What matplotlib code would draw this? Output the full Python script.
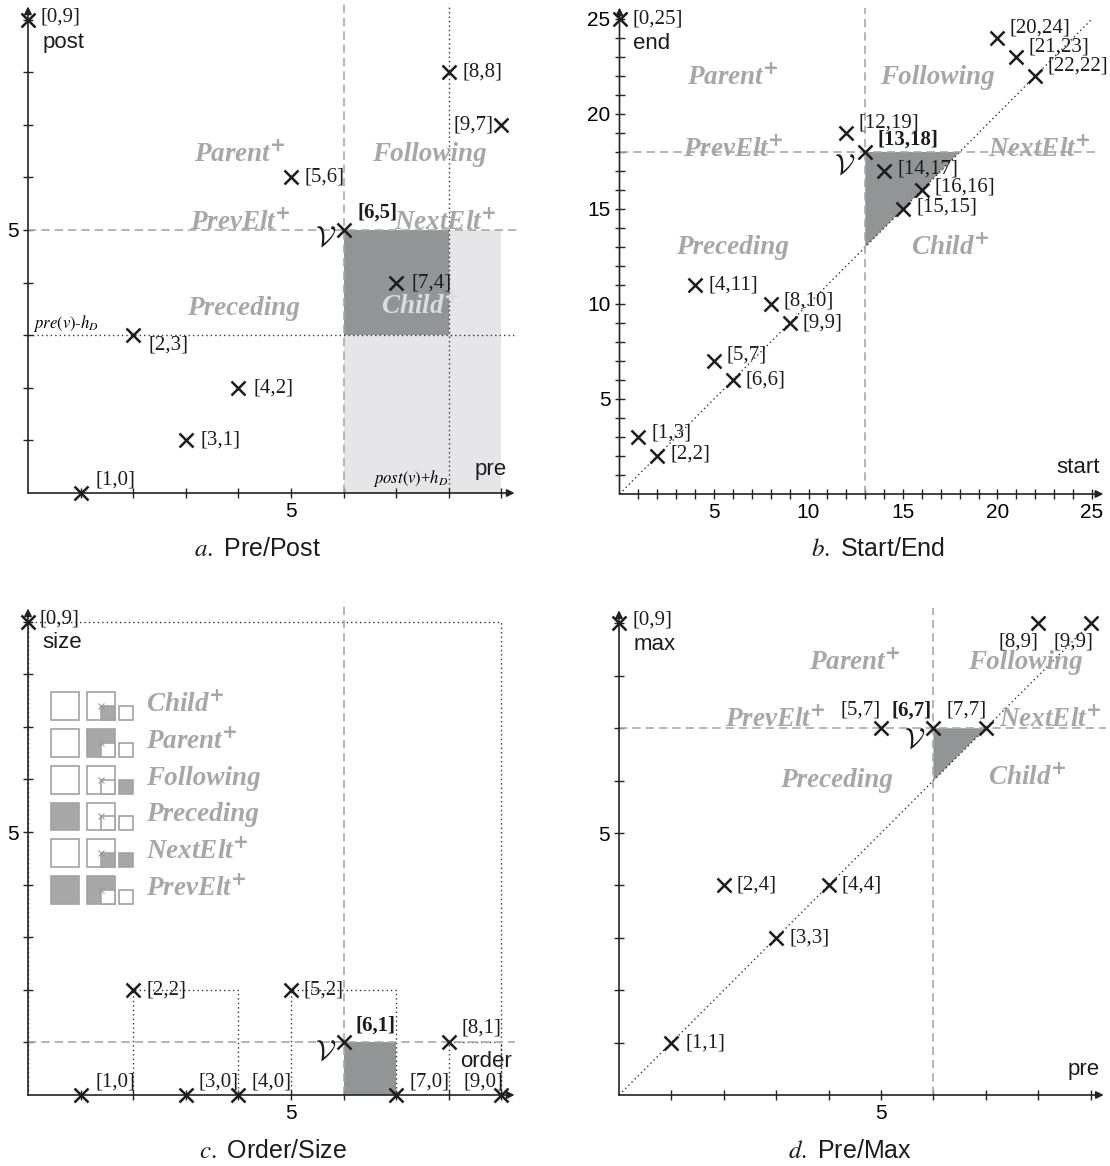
import matplotlib
matplotlib.use('Agg')
import matplotlib.pyplot as plt
from matplotlib.patches import Rectangle, Polygon

plt.rcParams['font.family'] = ['Liberation Sans', 'DejaVu Sans']

# a. Pre/Post
pp_pre = [0, 1, 2, 3, 4, 5, 6, 7, 8, 9]
pp_post = [9, 0, 3, 1, 2, 6, 5, 4, 8, 7]
pp_v = 6
h_D = 3

# b. Start/End
se_start = [0, 1, 2, 4, 5, 6, 8, 9, 12, 13, 14, 15, 16, 20, 21, 22]
se_end = [25, 3, 2, 11, 7, 6, 10, 9, 19, 18, 17, 15, 16, 24, 23, 22]
se_v = 9

# c. Order/Size
os_order = [0, 1, 2, 3, 4, 5, 6, 7, 8, 9]
os_size = [9, 0, 2, 0, 0, 2, 1, 0, 1, 0]
os_v = 6

# d. Pre/Max
pm_pre = [0, 1, 2, 3, 4, 5, 6, 7, 8, 9]
pm_max = [9, 1, 4, 3, 4, 7, 7, 7, 9, 9]
pm_v = 6

# legend of panel c: which parts are shaded
legend_labels = ['Child', 'Parent', 'Following', 'Preceding', 'NextElt', 'PrevElt']
legend_plus = [True, True, False, False, True, True]
legend_left = [0, 0, 0, 1, 0, 1]
legend_mid = [0, 1, 0, 0, 0, 1]
legend_inner = [1, 0, 0, 0, 1, 0]
legend_right = [0, 0, 1, 0, 1, 0]

W, H = 1110, 1166
DARK = '#939496'
LIGHT = '#e6e6e8'
REGION = '#a7a7a7'
DASH = '#a9a9a9'

fig = plt.figure(figsize=(W / 100, H / 100), dpi=100)


def make_axes(ox, oy, sx, sy, xlim, ylim, xend, yend, ticks_x, ticks_y, labels):
    l = ox + sx * xlim[0]
    r = ox + sx * xlim[1]
    b = oy - sy * ylim[0]
    t = oy - sy * ylim[1]
    ax = fig.add_axes([l / W, 1 - b / H, (r - l) / W, (b - t) / H])
    ax.set_xlim(xlim)
    ax.set_ylim(ylim)
    ax.patch.set_alpha(0)
    for sp in ['top', 'right']:
        ax.spines[sp].set_visible(False)
    for sp in ['left', 'bottom']:
        ax.spines[sp].set_position(('data', 0))
        ax.spines[sp].set_color('none')
    ax.set_xticks(ticks_x)
    ax.set_xticklabels([str(t) if t in labels else '' for t in ticks_x])
    ax.set_yticks(ticks_y)
    ax.set_yticklabels([str(t) if t in labels else '' for t in ticks_y])
    ax.tick_params(direction='inout', length=7, width=1, labelsize=15, pad=3,
                   color='#222222')
    arrow = dict(arrowstyle='-|>', color='#222222', lw=1.2, mutation_scale=11,
                 shrinkA=0, shrinkB=0)
    ax.annotate('', xy=(xend, 0), xytext=(0, 0), arrowprops=arrow, annotation_clip=False)
    ax.annotate('', xy=(0, yend), xytext=(0, 0), arrowprops=arrow, annotation_clip=False)
    return ax


def points(ax, xs, ys, offsets, v):
    ax.plot(xs, ys, 'x', ms=10, mew=1.8, color='#1c1c1c', clip_on=False, zorder=6)
    for i, (x, y) in enumerate(zip(xs, ys)):
        dx, dy, ha = offsets[i]
        ax.annotate(f'[{x},{y}]', (x, y), xytext=(dx, dy), textcoords='offset pixels',
                    ha=ha, va='center', fontsize=15, family='Liberation Serif',
                    weight='bold' if i == v else 'normal', color='#1c1c1c',
                    annotation_clip=False, zorder=7)


def region(ax, x, y, name, plus=False, color=REGION, ha='center'):
    s = name + (r'$^{\mathbf{+}}$' if plus else '')
    ax.text(x, y, s, color=color, fontsize=19.5, family='Liberation Serif',
            weight='bold', style='italic', ha=ha, va='center', zorder=3,
            math_fontfamily='dejavusans')


def vlabel(ax, x, y):
    ax.text(x, y, r'$\mathcal{V}$', fontsize=21, ha='center', va='center',
            math_fontfamily='cm', color='#1c1c1c', zorder=7)


def axlabel(ax, x, y, s, ha):
    ax.text(x, y, s, fontsize=16, ha=ha, va='center', color='#1c1c1c')


def dashed(ax, xs, ys):
    ax.plot(xs, ys, color=DASH, lw=1.2, ls=(0, (5, 3)), zorder=2, clip_on=False)


def dotted(ax, xs, ys):
    ax.plot(xs, ys, color='#333333', lw=1.0, ls=(0, (1, 2.2)), zorder=2, clip_on=False)


# ---------------- a. Pre/Post ----------------
ax = make_axes(28, 493, 52.6, 52.6, (-0.5, 9.9), (-0.3, 9.35), 9.25, 9.25,
               range(1, 10), range(1, 10), [5])
vx, vy = pp_pre[pp_v], pp_post[pp_v]
ax.add_patch(Rectangle((vx, 0), max(pp_pre) - vx, vy, color=LIGHT, lw=0, zorder=1))
ax.add_patch(Rectangle((vx, vx - h_D), vy + h_D - vx, vy - (vx - h_D), color=DARK, lw=0, zorder=1))
dashed(ax, [vx, vx], [0, 9.3])
dashed(ax, [0, 9.3], [vy, vy])
dotted(ax, [0, 9.3], [vx - h_D, vx - h_D])
dotted(ax, [vy + h_D, vy + h_D], [0, 9.3])
region(ax, 4.03, 6.43, 'Parent', True)
region(ax, 7.64, 6.43, 'Following')
region(ax, 4.03, 5.15, 'PrevElt', True)
region(ax, 7.93, 5.15, 'NextElt', True)
region(ax, 4.09, 3.5, 'Preceding')
region(ax, 7.45, 3.54, 'Child', True, color='#dcdcdc')
ax.text(0.1, vx - h_D + 0.22, r'$pre(v)$-$h_D$', fontsize=12, family='Liberation Serif',
        math_fontfamily='stix', ha='left', va='center')
ax.text(6.55, 0.27, r'$post(v)$+$h_D$', fontsize=12, family='Liberation Serif',
        math_fontfamily='stix', ha='left', va='center')
axlabel(ax, 0.27, 8.56, 'post', 'left')
axlabel(ax, 9.1, 0.45, 'pre', 'right')
vlabel(ax, 5.65, 4.85)
off_a = [(13, 3, 'left'), (15, 13, 'left'), (15, -10, 'left'), (15, 0, 'left'),
         (15, 0, 'left'), (14, 0, 'left'), (14, 17, 'left'), (15, 0, 'left'),
         (14, 0, 'left'), (-8, 0, 'right')]
points(ax, pp_pre, pp_post, off_a, pp_v)

# ---------------- b. Start/End ----------------
ax = make_axes(619.5, 494, 18.9, 19.0, (-1.5, 26.5), (-0.8, 25.9), 25.6, 25.6,
               range(1, 26), range(1, 26), [5, 10, 15, 20, 25])
vx, vy = se_start[se_v], se_end[se_v]
ax.add_patch(Polygon([(vx, vy), (vy, vy), (vx, vx)], closed=True, color=DARK, lw=0, zorder=1))
dotted(ax, [0, 25], [0, 25])
dashed(ax, [vx, vx], [0, 25.6])
dashed(ax, [0, 25.3], [vy, vy])
region(ax, 6.0, 21.9, 'Parent', True)
region(ax, 16.8, 21.9, 'Following')
region(ax, 6.0, 18.1, 'PrevElt', True)
region(ax, 22.2, 18.1, 'NextElt', True)
region(ax, 6.0, 12.95, 'Preceding')
region(ax, 17.5, 12.95, 'Child', True)
axlabel(ax, 0.71, 23.7, 'end', 'left')
axlabel(ax, 25.4, 1.37, 'start', 'right')
vlabel(ax, 11.9, 17.3)
off_b = [(13, 0, 'left'), (13, 4, 'left'), (13, 2, 'left'), (13, 0, 'left'),
         (13, 6, 'left'), (13, 0, 'left'), (13, 3, 'left'), (13, 0, 'left'),
         (12, 10, 'left'), (12, 12, 'left'), (13, 2, 'left'), (13, 2, 'left'),
         (13, 3, 'left'), (12, 10, 'left'), (12, 10, 'left'), (12, 10, 'left')]
points(ax, se_start, se_end, off_b, se_v)

# ---------------- c. Order/Size ----------------
ax = make_axes(28, 1095, 52.6, 52.6, (-0.5, 9.9), (-0.3, 9.6), 9.25, 9.25,
               range(1, 10), range(1, 10), [5])
vx, vy = os_order[os_v], os_size[os_v]
for i, (o, s) in enumerate(zip(os_order, os_size)):
    if s == 0:
        continue
    if i == os_v:
        ax.add_patch(Rectangle((o, 0), s, s, color=DARK, lw=0, zorder=1))
    else:
        dotted(ax, [o, o, o + s, o + s], [0, s, s, 0])
dashed(ax, [vx, vx], [0, 9.3])
dashed(ax, [0, 9.25], [vy, vy])
for i, name in enumerate(legend_labels):
    top = 7.66 - 0.70 * i
    sq = 0.53
    bot = top - sq
    edge = dict(ec='#a3a3a3', lw=1.2, zorder=3)
    ax.add_patch(Rectangle((0.44, bot), sq, sq, fc='#a8a8a8' if legend_left[i] else 'white', **edge))
    ax.add_patch(Rectangle((1.12, bot), sq, sq, fc='#a8a8a8' if legend_mid[i] else 'white', **edge))
    ax.add_patch(Rectangle((1.12 + sq / 2, bot), sq / 2, sq / 2,
                           fc='#a8a8a8' if legend_inner[i] else 'white', **edge))
    ax.plot([1.12 + sq / 2], [bot + sq / 2], 'x', ms=4, mew=0.8, color='#999999', zorder=4)
    ax.add_patch(Rectangle((1.73, bot), sq / 2, sq / 2, fc='#a8a8a8' if legend_right[i] else 'white', **edge))
    region(ax, 2.24, top - sq / 2 + 0.03, name, legend_plus[i], ha='left')
axlabel(ax, 0.27, 8.6, 'size', 'left')
axlabel(ax, 9.2, 0.63, 'order', 'right')
vlabel(ax, 5.65, 0.82)
off_c = [(12, 3, 'left'), (15, 13, 'left'), (13, 0, 'left'), (13, 13, 'left'),
         (13, 13, 'left'), (13, 0, 'left'), (12, 17, 'left'), (13, 13, 'left'),
         (13, 14, 'left'), (2, 13, 'right')]
points(ax, os_order, os_size, off_c, os_v)

# ---------------- d. Pre/Max ----------------
ax = make_axes(619, 1095, 52.4, 52.4, (-0.5, 9.9), (-0.3, 9.6), 9.25, 9.25,
               range(1, 10), range(1, 10), [5])
vx, vy = pm_pre[pm_v], pm_max[pm_v]
ax.add_patch(Polygon([(vx, vy), (vy, vy), (vx, vx)], closed=True, color=DARK, lw=0, zorder=1))
dotted(ax, [0, 9.05], [0, 9.05])
dashed(ax, [vx, vx], [0, 9.3])
dashed(ax, [0, 9.3], [vy, vy])
region(ax, 4.5, 8.26, 'Parent', True)
region(ax, 7.75, 8.26, 'Following')
region(ax, 2.98, 7.16, 'PrevElt', True)
region(ax, 8.22, 7.16, 'NextElt', True)
region(ax, 4.16, 6.0, 'Preceding')
region(ax, 7.79, 6.05, 'Child', True)
axlabel(ax, 0.27, 8.6, 'max', 'left')
axlabel(ax, 9.18, 0.48, 'pre', 'right')
vlabel(ax, 5.65, 6.78)
off_d = [(13, 3, 'left'), (14, 0, 'left'), (13, 0, 'left'), (13, 0, 'left'),
         (13, 0, 'left'), (0, 18, 'right'), (-2, 18, 'right'), (1, 18, 'right'),
         (0, -19, 'right'), (3, -19, 'right')]
points(ax, pm_pre, pm_max, off_d, pm_v)

# captions
captions = [(258, 549, 'a', 'Pre/Post'), (878, 549, 'b', 'Start/End'),
            (273, 1151, 'c', 'Order/Size'), (850, 1151, 'd', 'Pre/Max')]
for cx, cy, letter, title in captions:
    fig.text(cx / W, 1 - cy / H, f'${letter}.$ {title}', fontsize=18, ha='center',
             va='center', math_fontfamily='stix', color='#1c1c1c')

fig.savefig('out.png', dpi=100)
